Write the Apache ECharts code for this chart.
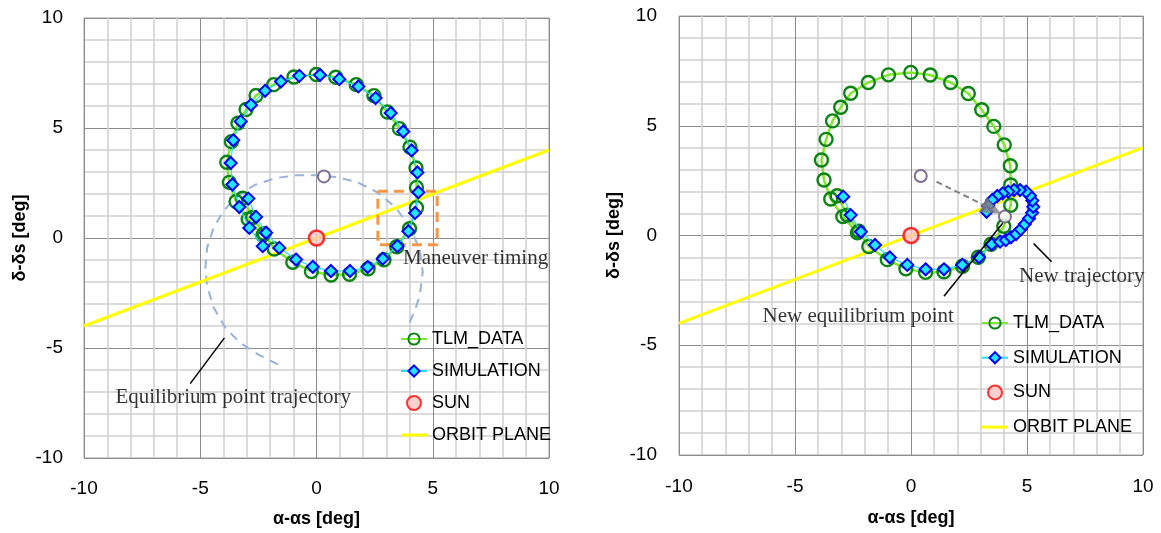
<!DOCTYPE html>
<html>
<head>
<meta charset="utf-8">
<script src="https://cdn.jsdelivr.net/npm/echarts@6/dist/echarts.min.js"></script>
<style>
  html, body { margin: 0; padding: 0; background: #fff; }
  #chart { width: 1161px; height: 533px; }
</style>
</head>
<body>
<div id="chart"></div>
<script>
// --- data (deg) ---
const tlmData = [[-3.18,1.81],[-2.75,0.93],[-2.25,0.2],[-1.82,-0.5],[-1.02,-1.1],[-0.22,-1.52],[0.63,-1.68],[1.42,-1.65],[2.22,-1.4],[2.9,-0.99],[3.45,-0.4],[4.0,0.42],[4.3,1.38],[4.3,2.3],[4.28,3.18],[4.02,4.13],[3.57,4.97],[3.05,5.73],[2.47,6.47],[1.71,6.97],[0.83,7.31],[-0.01,7.43],[-0.97,7.32],[-1.84,6.97],[-2.6,6.48],[-3.03,5.84],[-3.38,5.22],[-3.66,4.38],[-3.86,3.44],[-3.75,2.53],[-3.46,1.66],[-2.94,0.86],[-2.31,0.12]];

const simLeft = [[-2.93,1.79],[-2.6,0.96],[-2.17,0.24],[-1.6,-0.45],[-0.88,-0.98],[-0.16,-1.31],[0.62,-1.5],[1.44,-1.5],[2.2,-1.32],[2.85,-0.94],[3.48,-0.37],[3.95,0.31],[4.24,1.14],[4.38,2.08],[4.34,2.98],[4.09,3.98],[3.73,4.84],[3.19,5.68],[2.54,6.36],[1.8,6.89],[0.98,7.22],[0.15,7.41],[-0.74,7.37],[-1.53,7.11],[-2.21,6.69],[-2.82,6.05],[-3.26,5.3],[-3.58,4.44],[-3.69,3.41],[-3.62,2.43],[-3.32,1.41],[-2.89,0.46],[-2.31,-0.37]];

const simRight = [[-2.92,1.77],[-2.6,0.93],[-2.16,0.17],[-1.55,-0.43],[-0.91,-1.0],[-0.16,-1.34],[0.63,-1.54],[1.42,-1.54],[2.21,-1.34],[2.93,-0.99],[3.48,-0.4],[3.84,-0.28],[4.09,-0.21],[4.31,-0.08],[4.53,0.07],[4.73,0.28],[4.91,0.52],[5.09,0.78],[5.22,1.04],[5.27,1.31],[5.23,1.59],[5.13,1.81],[4.96,2.0],[4.7,2.07],[4.44,2.07],[4.19,2.0],[3.95,1.92],[3.72,1.8],[3.5,1.62],[3.33,1.34],[3.26,1.08]];

const sunData = [[0, 0]];
const orbitPlane = [[-10, -4], [10, 4]];

// left chart extras
const eqTrajectory = [[-1.66,-5.74],[-2.48,-5.31],[-3.28,-4.77],[-3.92,-4.08],[-4.43,-3.15],[-4.71,-2.15],[-4.78,-1.38],[-4.71,-0.46],[-4.43,0.46],[-4.0,1.23],[-3.44,1.88],[-2.64,2.42],[-1.77,2.72],[-0.89,2.85],[0,2.85],[0.86,2.77],[1.74,2.54],[2.61,2.08],[3.41,1.38],[4.04,0.46],[4.44,-0.54],[4.57,-1.54],[4.44,-2.62],[4.2,-3.38],[3.89,-4.08]];
const eqPointLeft = [[0.32, 2.8]];
const maneuverBox = [[2.64,2.12],[5.19,2.12],[5.19,-0.31],[2.64,-0.31],[2.64,2.12]];
const eqTrajPointer = [[-5.43,-6.62],[-3.96,-4.54]];
const labelsLeft = [
  { value: [3.72, -0.93], name: 'Maneuver timing' },
  { value: [-8.65, -7.23], name: 'Equilibrium point trajectory' }
];

// right chart extras
const eqPointsRight = [[0.42, 2.71], [4.05, 0.86]];
const shiftArrow = [[1.1, 2.45], [3.5, 1.2]];   // dashed shaft, ends at the head's centre
const newEqPointer = [[1.42,-2.77],[3.95,0.56]];
const newTrajPointer = [[5.29,-0.37],[6.06,-1.2]];
const labelsRight = [
  { value: [-6.4, -3.67], name: 'New equilibrium point' },
  { value: [4.66, -1.87], name: 'New trajectory' }
];

const axisTicks = { min: -10, max: 10, interval: 5 };
const legendNames = ['TLM_DATA', 'SIMULATION', 'SUN',
  { name: 'ORBIT PLANE', icon: 'path://M0,0H26V3H0Z' }];

const SANS = 'Liberation Sans';
const SERIF = 'Liberation Serif';

function makeAxis(i, name, gap, margin) {
  return {
    type: 'value', gridIndex: i,
    min: axisTicks.min, max: axisTicks.max, interval: axisTicks.interval,
    name: name, nameLocation: 'middle', nameGap: gap,
    nameTextStyle: { fontFamily: SANS, fontSize: 18, fontWeight: 'bold', color: '#000' },
    axisLine: { show: false },
    axisTick: { show: false },
    axisLabel: { fontFamily: SANS, fontSize: 19, color: '#000', margin: margin },
    splitLine: { show: true, lineStyle: { color: '#8c8c8c', width: 1 } },
    minorTick: { show: false, splitNumber: 5 },
    minorSplitLine: { show: true, lineStyle: { color: '#cfcfcf', width: 1.5 } }
  };
}

function baseSeries(i, sim) {
  return [
    {
      name: 'ORBIT PLANE', type: 'line', xAxisIndex: i, yAxisIndex: i,
      data: orbitPlane, showSymbol: false, symbol: 'none', z: 2,
      lineStyle: { color: '#ffff00', width: 3 }, itemStyle: { color: '#ffff00' }
    },
    {
      name: 'TLM_DATA', type: 'line', xAxisIndex: i, yAxisIndex: i,
      data: tlmData, symbol: 'circle', symbolSize: 13, z: 4,
      lineStyle: { color: '#7fe82c', width: 2.5 },
      itemStyle: { color: 'rgba(255,255,255,0)', borderColor: '#0c8414', borderWidth: 2.4 }
    },
    {
      name: 'SIMULATION', type: 'line', xAxisIndex: i, yAxisIndex: i,
      data: sim, symbol: 'diamond', symbolSize: 12, z: 5,
      lineStyle: { color: '#22e0f0', width: 1.2 },
      itemStyle: { color: '#22e6ff', borderColor: '#0000ff', borderWidth: 2 }
    },
    {
      name: 'SUN', type: 'scatter', xAxisIndex: i, yAxisIndex: i,
      data: sunData, symbol: 'circle', symbolSize: 15, z: 6,
      itemStyle: { color: '#f7c4c4', borderColor: '#ff0000', borderWidth: 2.5 }
    }
  ];
}

function helperLine(i, data, color, width, dash, z) {
  return {
    type: 'line', xAxisIndex: i, yAxisIndex: i, data: data,
    showSymbol: false, symbol: 'none', silent: true, z: z || 3,
    lineStyle: { color: color, width: width, type: dash || 'solid' }
  };
}

function eqPoints(i, data) {
  return {
    type: 'scatter', xAxisIndex: i, yAxisIndex: i, data: data,
    symbol: 'circle', symbolSize: 12, z: 6, silent: true,
    itemStyle: { color: '#ffffff', borderColor: '#604a7b', borderWidth: 2 }
  };
}

function textLabels(i, data) {
  return {
    type: 'scatter', xAxisIndex: i, yAxisIndex: i, data: data,
    symbolSize: 0, silent: true, z: 7,
    label: {
      show: true, position: 'right', distance: 0, formatter: '{b}',
      fontFamily: SERIF, fontSize: 21, color: '#000'
    }
  };
}

const chart = echarts.init(document.getElementById('chart'));

chart.setOption({
  backgroundColor: '#ffffff',
  animation: false,
  grid: [
    { left: 84, top: 18, width: 465, height: 441, show: true, borderColor: '#a0a0a0', borderWidth: 1 },
    { left: 679, top: 16, width: 464, height: 439, show: true, borderColor: '#a0a0a0', borderWidth: 1 }
  ],
  xAxis: [makeAxis(0, 'α-αs [deg]', 52, 21), makeAxis(1, 'α-αs [deg]', 54, 22)],
  yAxis: [makeAxis(0, 'δ-δs [deg]', 55, 21), makeAxis(1, 'δ-δs [deg]', 56, 22)],
  legend: [
    {
      data: legendNames, orient: 'vertical', left: 400, top: 330, padding: 0,
      itemWidth: 26, itemHeight: 14, itemGap: 14,
      textStyle: { fontFamily: SANS, fontSize: 18, color: '#000' }
    },
    {
      data: legendNames, orient: 'vertical', left: 981, top: 314, padding: 0,
      itemWidth: 26, itemHeight: 14, itemGap: 16.7,
      textStyle: { fontFamily: SANS, fontSize: 18, color: '#000' }
    }
  ],
  series: [
    helperLine(0, eqTrajectory, '#95b3d7', 2, [9, 7], 2),
    helperLine(0, maneuverBox, '#f79646', 3, [10, 6], 3),
    helperLine(0, eqTrajPointer, '#000000', 1.5, 'solid', 7),
    ...baseSeries(0, simLeft),
    eqPoints(0, eqPointLeft),
    textLabels(0, labelsLeft),

    ...baseSeries(1, simRight),
    eqPoints(1, eqPointsRight),
    helperLine(1, shiftArrow, '#808080', 2, [6, 4], 9),
    {
      id: 'arrowHead', type: 'scatter', xAxisIndex: 1, yAxisIndex: 1,
      data: [shiftArrow[1]], symbol: 'triangle', symbolSize: [17, 21],
      silent: true, z: 10, itemStyle: { color: '#7f7f7f' }
    },
    helperLine(1, newEqPointer, '#000000', 1.5, 'solid', 7),
    helperLine(1, newTrajPointer, '#000000', 1.5, 'solid', 7),
    textLabels(1, labelsRight)
  ]
});

// turn the arrow head along the shaft, in screen space
const p0 = chart.convertToPixel({ gridIndex: 1 }, shiftArrow[0]);
const p1 = chart.convertToPixel({ gridIndex: 1 }, shiftArrow[1]);
const ang = Math.atan2(-(p1[1] - p0[1]), p1[0] - p0[0]) * 180 / Math.PI;
chart.setOption({ series: [{ id: 'arrowHead', symbolRotate: ang - 90 }] });

window.addEventListener('resize', () => chart.resize());
</script>
</body>
</html>
